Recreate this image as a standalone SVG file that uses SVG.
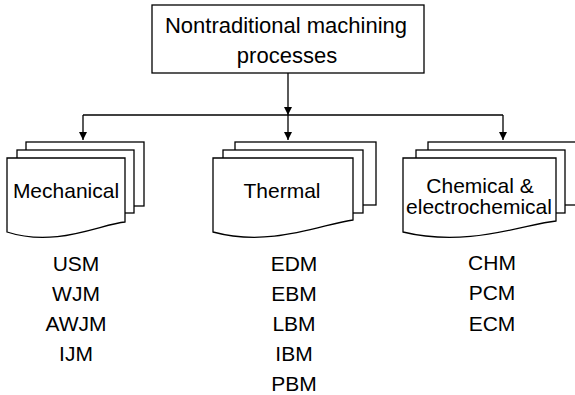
<svg xmlns="http://www.w3.org/2000/svg" width="575" height="395" viewBox="0 0 575 395">
<style>
  .box { fill: #fff; stroke: #000; stroke-width: 1.3; }
  .ln { fill: none; stroke: #000; stroke-width: 1.3; }
  text { font-family: "Liberation Sans", Arial, sans-serif; font-size: 21px; fill: #000; text-anchor: middle; }
  .big { font-size: 22px; }
</style>
<defs>
  <marker id="arr" viewBox="0 0 8 10" refX="8" refY="5" markerWidth="8" markerHeight="10" markerUnits="userSpaceOnUse" orient="auto">
    <path d="M0,1 L8,5 L0,9 Z" fill="#000"/>
  </marker>
</defs>
<g id="connectors">
  <line class="ln" x1="288" y1="73" x2="288" y2="115" marker-end="url(#arr)"/>
  <line class="ln" x1="83" y1="115" x2="503" y2="115"/>
  <line class="ln" x1="83" y1="115" x2="83" y2="140" marker-end="url(#arr)"/>
  <line class="ln" x1="288" y1="115" x2="288" y2="140" marker-end="url(#arr)"/>
  <line class="ln" x1="503" y1="115" x2="503" y2="140" marker-end="url(#arr)"/>
</g>
<g id="root">
  <rect class="box" x="152" y="5" width="272" height="68"/>
  <text class="big" x="286" y="33">Nontraditional machining</text>
  <text class="big" x="287" y="63">processes</text>
</g>
<g id="mechanical">
  <rect class="box" x="26" y="142" width="118" height="64"/>
  <rect class="box" x="17" y="150" width="117" height="63"/>
  <path class="box" d="M7,158 H125 V222 C101,224 56,248 7,232 Z"/>
  <text x="66" y="198">Mechanical</text>
</g>
<g id="thermal">
  <rect class="box" x="235" y="142" width="141" height="63"/>
  <rect class="box" x="223" y="150" width="140" height="63"/>
  <path class="box" d="M213,158 H353 V220 C325,223 272,248 213,232 Z"/>
  <text x="282" y="198">Thermal</text>
</g>
<g id="chemical">
  <rect class="box" x="428" y="142" width="170" height="63"/>
  <rect class="box" x="416" y="150" width="149" height="63"/>
  <path class="box" d="M403,158 H556 V221 C525,224 468,248 403,232 Z"/>
  <text x="480" y="193">Chemical &amp;</text>
  <text x="479" y="214">electrochemical</text>
</g>
<g id="mech-list">
  <text x="76" y="271">USM</text>
  <text x="76" y="301">WJM</text>
  <text x="76" y="331">AWJM</text>
  <text x="76" y="361">IJM</text>
</g>
<g id="thermal-list">
  <text x="294" y="271">EDM</text>
  <text x="294" y="301">EBM</text>
  <text x="294" y="331">LBM</text>
  <text x="294" y="361">IBM</text>
  <text x="294" y="391">PBM</text>
</g>
<g id="chem-list">
  <text x="492" y="270">CHM</text>
  <text x="492" y="300">PCM</text>
  <text x="492" y="331">ECM</text>
</g>
</svg>
